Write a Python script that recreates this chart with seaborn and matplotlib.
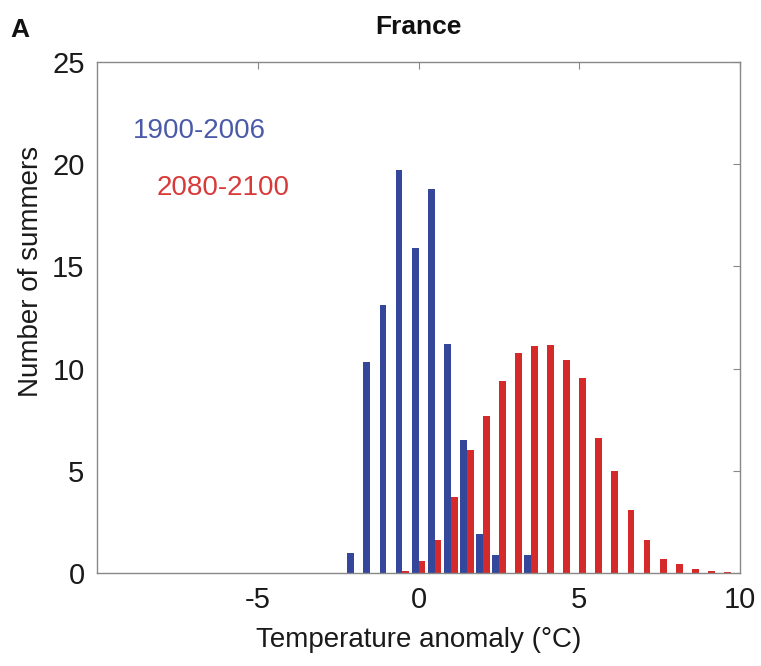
import numpy as np
import pandas as pd
import matplotlib
matplotlib.use("Agg")
import matplotlib.pyplot as plt
import seaborn as sns

# Histogram values (bin width 0.5 degC)
bins_past = [-2.0, -1.5, -1.0, -0.5, 0.0, 0.5, 1.0, 1.5, 2.0, 2.5, 3.0, 3.5]
counts_past = [1.0, 10.3, 13.1, 19.7, 15.9, 18.8, 11.2, 6.5, 1.9, 0.9, 0.0, 0.9]

bins_future = [-0.5, 0.0, 0.5, 1.0, 1.5, 2.0, 2.5, 3.0, 3.5, 4.0, 4.5,
               5.0, 5.5, 6.0, 6.5, 7.0, 7.5, 8.0, 8.5, 9.0, 9.5]
counts_future = [0.12, 0.6, 1.6, 3.7, 6.0, 7.7, 9.4, 10.75, 11.1, 11.15, 10.4,
                 9.55, 6.6, 5.0, 3.1, 1.6, 0.7, 0.45, 0.2, 0.08, 0.05]

periods = ["1900-2006", "2080-2100"]
colors = ["#34479b", "#d62a2a"]

# long table on the union of bin centres
all_bins = sorted(set(bins_past) | set(bins_future))
past = dict(zip(bins_past, counts_past))
future = dict(zip(bins_future, counts_future))
df = pd.DataFrame({
    "anomaly": all_bins * 2,
    "count": [past.get(b, 0.0) for b in all_bins] + [future.get(b, 0.0) for b in all_bins],
    "period": [periods[0]] * len(all_bins) + [periods[1]] * len(all_bins),
})

sns.set_style("white")
plt.rcParams["font.family"] = ["Liberation Sans", "DejaVu Sans"]

fig = plt.figure(figsize=(7.61, 6.66), dpi=100)
ax = fig.add_axes([0.1275, 0.1396, 0.845, 0.7673])

sns.barplot(data=df, x="anomaly", y="count", hue="period", palette=colors,
            native_scale=True, width=0.85, dodge=True, ax=ax, legend=False,
            linewidth=0, errorbar=None, saturation=1)
for patch in ax.patches:
    if patch.get_height() <= 0:
        patch.set_visible(False)

ax.set_xlim(-10, 10)
ax.set_ylim(0, 25)
ax.set_xticks([-5, 0, 5, 10])
ax.set_xticklabels(["-5", "0", "5", "10"])
ax.set_yticks([0, 5, 10, 15, 20, 25])
ax.tick_params(axis="both", direction="in", length=5, width=0.8, color="#888888",
               labelsize=21, top=True, right=True, pad=9, labelcolor="#1a1a1a")
for s in ax.spines.values():
    s.set_visible(True)
    s.set_color("#888888")
    s.set_linewidth(1.0)

ax.set_xlabel("Temperature anomaly (°C)", fontsize=20, color="#1a1a1a", labelpad=10)
ax.set_ylabel("Number of summers", fontsize=20, color="#1a1a1a")
ax.yaxis.set_label_coords(-0.082, 0.59)
ax.set_title("France", fontsize=19, fontweight="bold", pad=20, color="#111111")
fig.text(0.014, 1 - 37 / 666, "A", fontsize=19, fontweight="bold", color="#111111")

ax.text(-8.9, 21.3, periods[0], color="#4a5aa8", fontsize=20, va="baseline")
ax.text(-8.15, 18.5, periods[1], color="#d83a3a", fontsize=20, va="baseline")

fig.savefig("out.png", dpi=100, facecolor="white")
